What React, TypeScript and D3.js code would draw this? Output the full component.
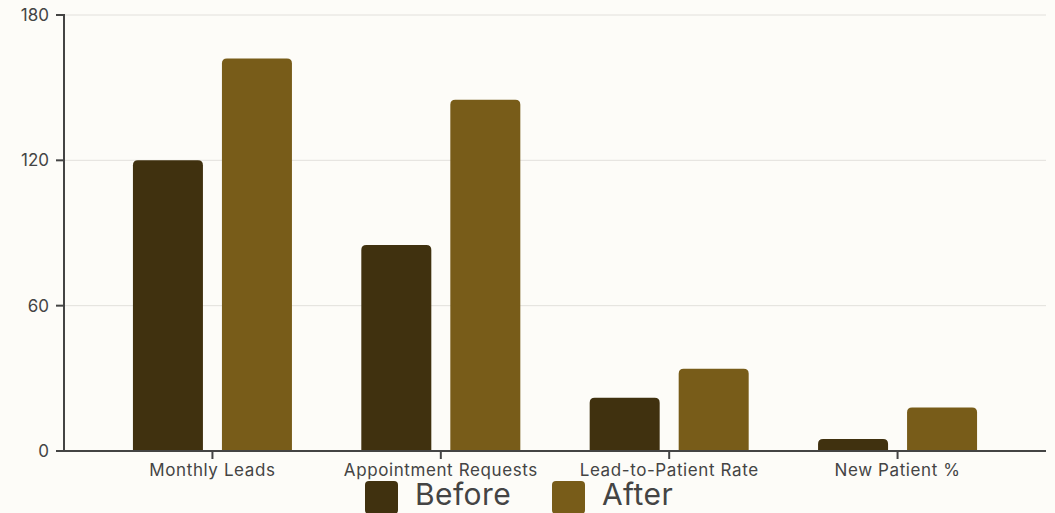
import React from "react";
import * as d3 from "d3";

const categories = ["Monthly Leads", "Appointment Requests", "Lead-to-Patient Rate", "New Patient %"];
const seriesNames = ["Before", "After"];
const beforeValues = [120, 85, 22, 5];
const afterValues = [162, 145, 34, 18];
const yTicks = [0, 60, 120, 180];
const colors = ["#40310f", "#785c19"];

const W = 1055;
const H = 513;
const left = 64;
const right = 1046;
const top = 15;
const bottom = 451;

function topRoundedRect(x: number, y: number, w: number, h: number, r: number) {
  const rr = Math.min(r, h, w / 2);
  return `M${x},${y + h}V${y + rr}Q${x},${y} ${x + rr},${y}H${x + w - rr}Q${x + w},${y} ${x + w},${y + rr}V${y + h}Z`;
}

export default function App() {
  const x0 = d3.scaleBand<string>().domain(categories).range([left, right]).paddingInner(0).paddingOuter(0.15);
  const x1 = d3.scaleBand<string>().domain(seriesNames).range([-89, 89]).paddingInner(0.2135).paddingOuter(0.1067);
  const y = d3.scaleLinear().domain([0, 180]).range([bottom, top]);
  const values = [beforeValues, afterValues];
  const font = "Inter, 'Open Sans', sans-serif";
  const textColor = "#444";

  return (
    <svg width={W} height={H} style={{ position: "absolute", left: 0, top: 0, background: "#fdfcf8" }}>
      <rect x={0} y={0} width={W} height={H} fill="#fdfcf8" />
      {yTicks.filter((t) => t > 0).map((t) => (
        <line key={t} x1={left} x2={right} y1={y(t)} y2={y(t)} stroke="#e2e0dc" strokeWidth={1} />
      ))}
      {categories.map((c, i) => {
        const cx = x0(c)! + x0.bandwidth() / 2;
        return seriesNames.map((s, j) => {
          const v = values[j][i];
          const bx = cx + x1(s)!;
          return (
            <path key={c + s} d={topRoundedRect(bx, y(v), x1.bandwidth(), bottom - y(v), 5)} fill={colors[j]} />
          );
        });
      })}
      {/* y axis */}
      <line x1={left} x2={left} y1={top - 1} y2={bottom + 1} stroke="#444" strokeWidth={2} />
      {yTicks.map((t) => (
        <g key={t}>
          <line x1={left - 8} x2={left} y1={y(t)} y2={y(t)} stroke="#444" strokeWidth={2} />
          <text x={left - 15} y={y(t)} dy="0.36em" textAnchor="end" fontFamily={font} fontSize={17} fill={textColor}>
            {t}
          </text>
        </g>
      ))}
      {/* x axis */}
      <line x1={left} x2={right} y1={bottom} y2={bottom} stroke="#444" strokeWidth={2} />
      {categories.map((c) => {
        const cx = x0(c)! + x0.bandwidth() / 2;
        return (
          <g key={c}>
            <line x1={cx} x2={cx} y1={bottom} y2={bottom + 8} stroke="#444" strokeWidth={2} />
            <text x={cx} y={bottom + 25} textAnchor="middle" fontFamily={font} fontSize={17} letterSpacing={0.6} fill={textColor}>
              {c}
            </text>
          </g>
        );
      })}
      {/* legend */}
      {seriesNames.map((s, j) => {
        const lx = j === 0 ? 365 : 552;
        return (
          <g key={s}>
            <rect x={lx} y={481} width={33} height={33} rx={4} fill={colors[j]} />
            <text x={lx + 50} y={505} fontFamily={font} fontSize={30} letterSpacing={0.4} fill={textColor}>
              {s}
            </text>
          </g>
        );
      })}
    </svg>
  );
}
